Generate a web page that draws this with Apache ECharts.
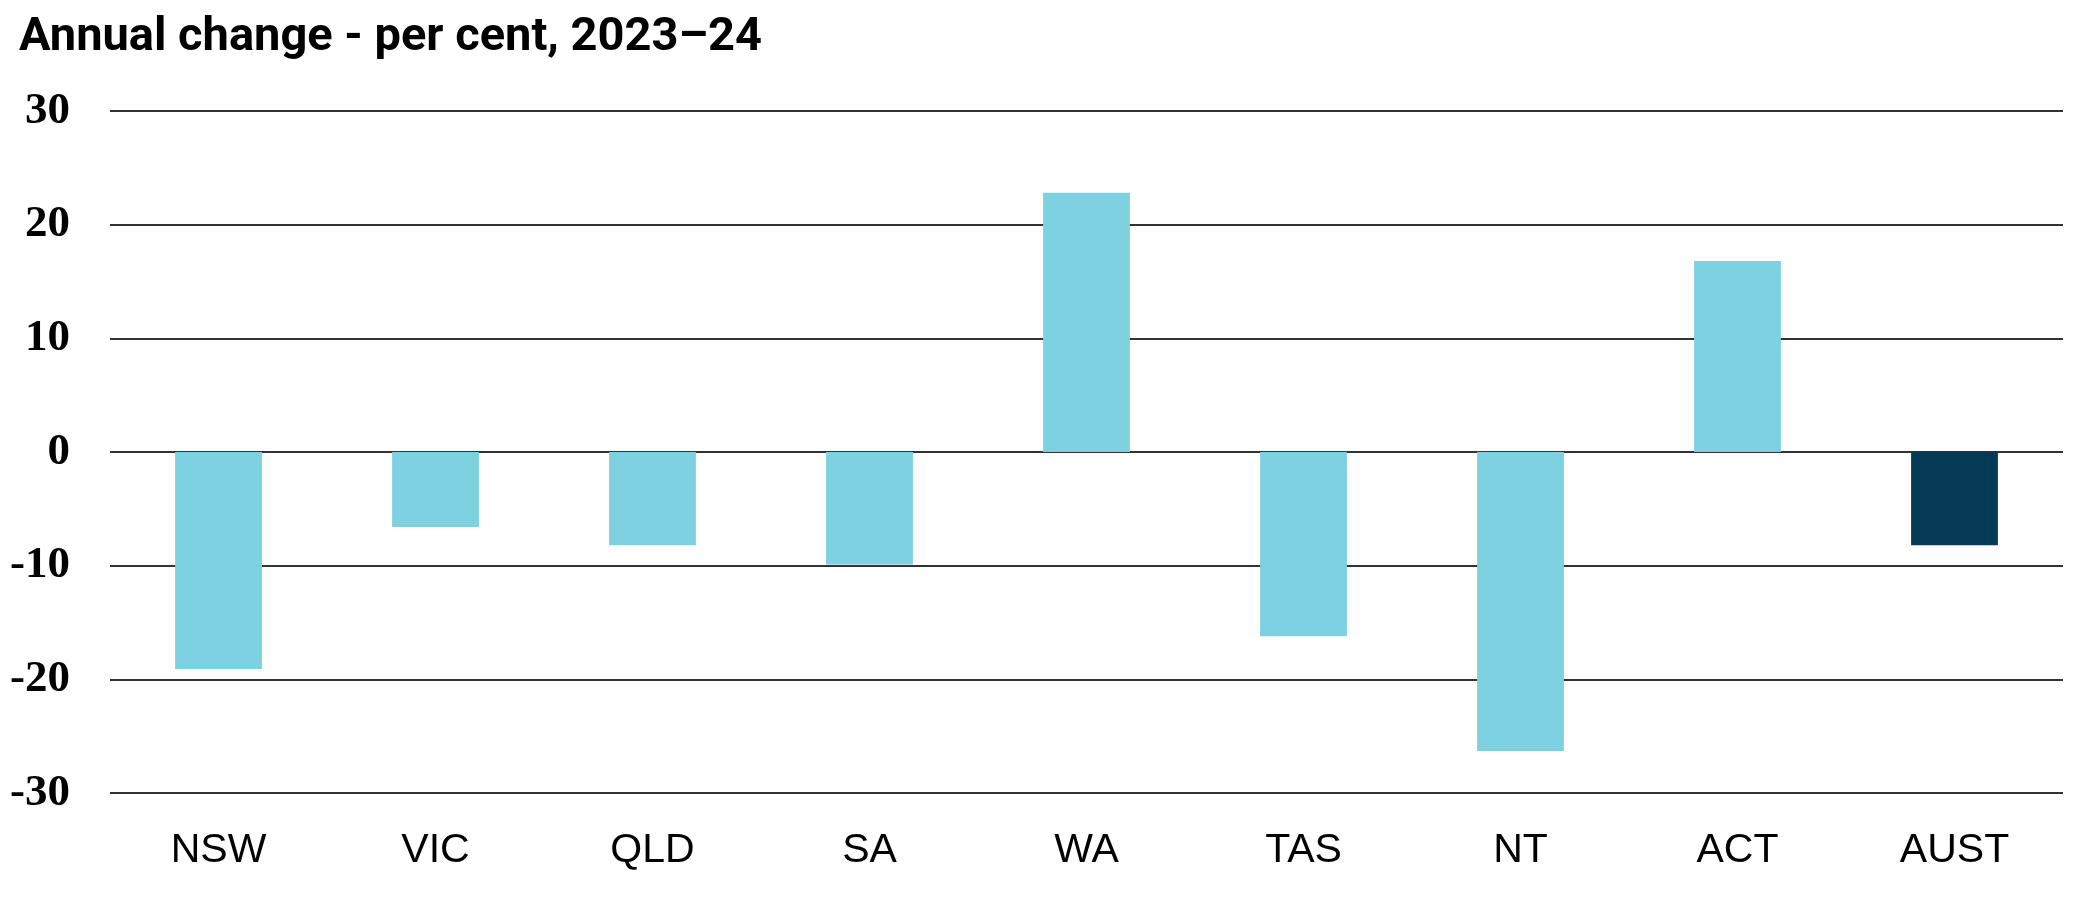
<!DOCTYPE html>
<html>
<head>
<meta charset="utf-8">
<script src="https://cdn.jsdelivr.net/npm/echarts@6/dist/echarts.min.js"></script>
<style>
  html, body { margin: 0; padding: 0; background: #fff; }
  #chart { width: 2076px; height: 911px; }
</style>
</head>
<body>
<div id="chart"></div>
<script>
// categories and values
const states = ['NSW', 'VIC', 'QLD', 'SA', 'WA', 'TAS', 'NT', 'ACT', 'AUST'];
const annualChange = [-19.1, -6.6, -8.2, -9.9, 22.8, -16.2, -26.3, 16.8, -8.2];

const lightBlue = '#7DD1E1';
const darkBlue = '#043A56';

const chart = echarts.init(document.getElementById('chart'));

chart.setOption({
  animation: false,
  backgroundColor: '#fff',
  title: {
    text: 'Annual change - per cent, 2023–24',
    left: 14,
    top: 10,
    textStyle: {
      fontFamily: 'Roboto',
      fontWeight: 'bold',
      fontSize: 47,
      color: '#000'
    }
  },
  grid: { left: 110, right: 13, top: 111, bottom: 118 },
  xAxis: {
    type: 'category',
    data: states,
    position: 'bottom',
    axisLine: { show: false, onZero: false },
    axisTick: { show: false },
    axisLabel: {
      margin: 37,
      fontFamily: 'Liberation Sans',
      fontSize: 41,
      color: '#000'
    }
  },
  yAxis: {
    type: 'value',
    min: -30,
    max: 30,
    interval: 10,
    axisLine: { show: false },
    axisTick: { show: false },
    splitLine: { lineStyle: { color: '#333', width: 2 } },
    axisLabel: {
      margin: 40,
      fontFamily: 'Liberation Serif',
      fontWeight: 'bold',
      fontSize: 45,
      color: '#000'
    }
  },
  series: [{
    type: 'bar',
    barWidth: '40%',
    data: annualChange.map((v, i) => ({
      value: v,
      itemStyle: { color: states[i] === 'AUST' ? darkBlue : lightBlue }
    }))
  }]
});
</script>
</body>
</html>
